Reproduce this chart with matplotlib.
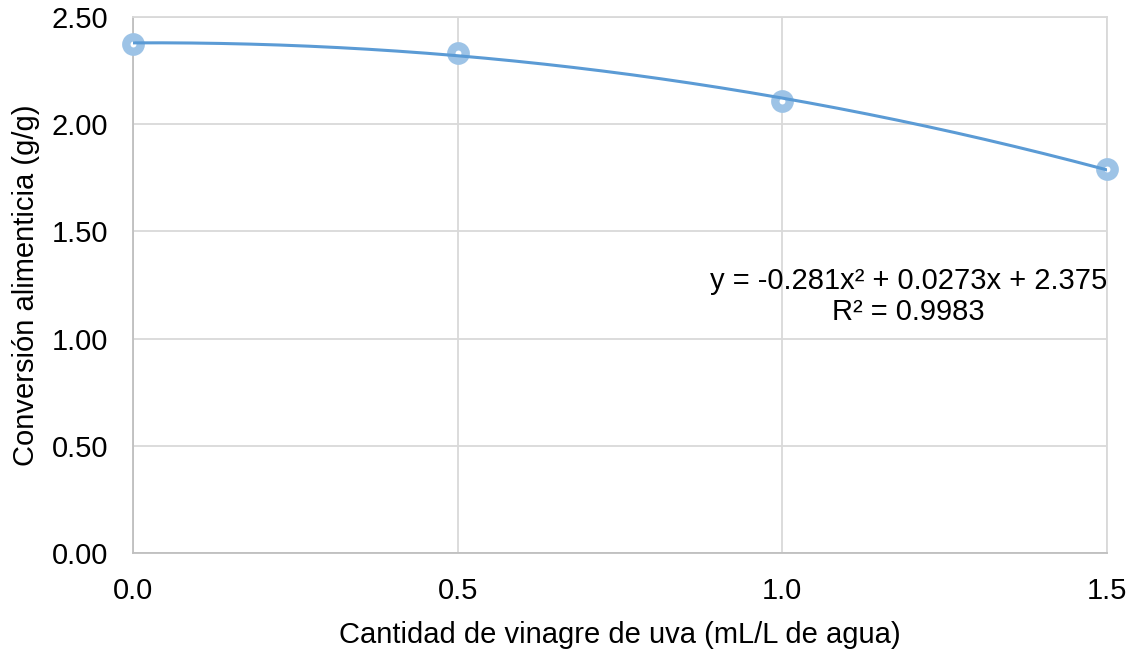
import matplotlib.pyplot as plt
import numpy as np

# donnees
vinagre = [0.0, 0.5, 1.0, 1.5]
conversion = [2.375, 2.33, 2.11, 1.79]

plt.rcParams['font.family'] = ['Liberation Sans', 'DejaVu Sans']

fig = plt.figure(figsize=(11.36, 6.49), dpi=100)
ax = fig.add_axes([0.117, 0.148, 0.8575, 0.826])

ax.plot(vinagre, conversion, 'o', ms=10.4, mfc='white', mec='#9DC3E6', mew=6,
        zorder=3, clip_on=False)

# courbe de tendance polynomiale (ordre 2)
coef = np.polyfit(vinagre, conversion, 2)
xs = np.linspace(0, 1.5, 200)
ax.plot(xs, np.polyval(coef, xs), color='#5B9BD5', lw=2.2, zorder=4)

ax.set_xlim(0, 1.5)
ax.set_ylim(0, 2.5)
ax.set_xticks([0, 0.5, 1.0, 1.5])
ax.set_xticklabels(['0.0', '0.5', '1.0', '1.5'])
ax.set_yticks(np.arange(0, 2.51, 0.5))
ax.set_yticklabels(['0.00', '0.50', '1.00', '1.50', '2.00', '2.50'])
ax.grid(True, color='#D9D9D9', lw=1.3)
ax.set_axisbelow(True)
for s in ax.spines.values():
    s.set_color('#D9D9D9')
    s.set_linewidth(1.3)
ax.spines['left'].set_color('#BFBFBF')
ax.spines['bottom'].set_color('#BFBFBF')
ax.tick_params(length=0, labelsize=21, colors='black')
ax.tick_params(axis='y', pad=18)
ax.tick_params(axis='x', pad=17)

ax.set_xlabel('Cantidad de vinagre de uva (mL/L de agua)', fontsize=21, labelpad=12)
ax.set_ylabel('Conversión alimenticia (g/g)', fontsize=21, labelpad=8)

ax.text(0.796, 0.479, 'y = -0.281x² + 0.0273x + 2.375\nR² = 0.9983',
        transform=ax.transAxes, ha='center', va='center', fontsize=21,
        linespacing=1.15)

plt.savefig('out.png')
